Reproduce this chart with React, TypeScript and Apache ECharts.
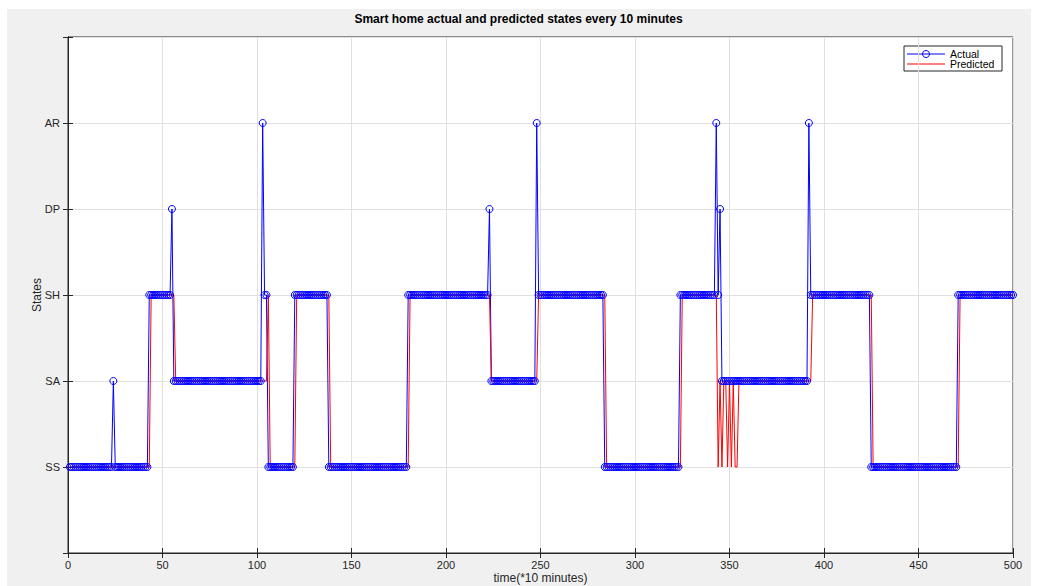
import React, { useEffect, useRef } from "react";
import * as echarts from "echarts";

// State codes: 1=SS, 2=SA, 3=SH, 4=DP, 5=AR
const STATE_LABELS = ["", "SS", "SA", "SH", "DP", "AR", ""];
const FIRST_STEP = 1;

// Actual states as runs (state, number of consecutive 10-minute steps)
const actualStates = [1, 2, 1, 3, 4, 2, 5, 3, 1, 3, 1, 3, 4, 2, 5, 3, 1, 3, 5, 3, 4, 2, 5, 3, 1, 3];
const actualRunLengths = [23, 1, 18, 12, 1, 47, 1, 2, 14, 18, 42, 43, 1, 24, 1, 35, 40, 19, 1, 1, 1, 46, 1, 32, 46, 30];

// Predicted states as runs
const predictedStates = [1, 3, 2, 3, 1, 3, 1, 3, 2, 3, 1, 3, 1, 2, 1, 2, 1, 2, 1, 2, 1, 2, 3, 1, 3];
const predictedRunLengths = [43, 13, 49, 1, 14, 18, 42, 43, 25, 36, 40, 19, 1, 1, 1, 2, 1, 1, 1, 1, 2, 39, 32, 46, 29];

const LEGEND_NAMES = ["Actual", "Predicted"];

function expandRuns(states: number[], lengths: number[]): [number, number][] {
  const out: [number, number][] = [];
  let t = FIRST_STEP;
  states.forEach((s, i) => {
    for (let k = 0; k < lengths[i]; k++) {
      out.push([t, s]);
      t++;
    }
  });
  return out;
}

const AXIS_COLOR = "#262626";
const GRID_COLOR = "#e0e0e0";
const BLUE = "#0000ff";
const RED = "#ff0000";
const FONT = "'Liberation Sans', Arial, Helvetica, sans-serif";

export default function App() {
  const ref = useRef<HTMLDivElement>(null);
  useEffect(() => {
    if (!ref.current) return;
    const chart = echarts.init(ref.current, undefined, { renderer: "svg" });
    const actual = expandRuns(actualStates, actualRunLengths);
    const predicted = expandRuns(predictedStates, predictedRunLengths);
    const xCommon = { type: "value" as const, min: 0, max: 500, interval: 50 };
    const yCommon = { type: "value" as const, min: 0, max: 6, interval: 1 };
    const axisLine = { show: true, lineStyle: { color: AXIS_COLOR, width: 1 } };
    const axisTick = { show: true, inside: true, length: 5, lineStyle: { color: AXIS_COLOR } };

    const lx = 904;
    const ly = 46;
    chart.setOption({
      animation: false,
      backgroundColor: "transparent",
      textStyle: { fontFamily: FONT },
      title: {
        text: "Smart home actual and predicted states every 10 minutes",
        left: "center",
        top: 8,
        textStyle: { fontSize: 12, fontWeight: "bold", color: "#000", fontFamily: FONT },
      },
      grid: {
        left: 68,
        right: 24,
        top: 37,
        bottom: 33,
        outerBoundsMode: "none",
        show: true,
        backgroundColor: "#ffffff",
        borderColor: AXIS_COLOR,
        borderWidth: 1,
      },
      graphic: [
        {
          type: "group",
          z: 100,
          children: [
            {
              type: "rect",
              shape: { x: lx, y: ly, width: 98, height: 25 },
              style: { fill: "#ffffff", stroke: AXIS_COLOR, lineWidth: 1 },
            },
            {
              type: "line",
              shape: { x1: lx + 3, y1: ly + 8, x2: lx + 41, y2: ly + 8 },
              style: { stroke: BLUE, lineWidth: 1 },
            },
            {
              type: "circle",
              shape: { cx: lx + 22, cy: ly + 8, r: 3.5 },
              style: { fill: "none", stroke: BLUE, lineWidth: 1 },
            },
            {
              type: "text",
              x: lx + 46,
              y: ly + 8,
              style: {
                text: LEGEND_NAMES[0],
                fill: "#000",
                fontSize: 10.5,
                fontFamily: FONT,
                verticalAlign: "middle",
                align: "left",
              },
            },
            {
              type: "line",
              shape: { x1: lx + 3, y1: ly + 18, x2: lx + 41, y2: ly + 18 },
              style: { stroke: RED, lineWidth: 1 },
            },
            {
              type: "text",
              x: lx + 46,
              y: ly + 18,
              style: {
                text: LEGEND_NAMES[1],
                fill: "#000",
                fontSize: 10.5,
                fontFamily: FONT,
                verticalAlign: "middle",
                align: "left",
              },
            },
          ],
        },
      ],
      xAxis: [
        {
          ...xCommon,
          position: "bottom",
          name: "time(*10 minutes)",
          nameLocation: "middle",
          nameGap: 19,
          nameMoveOverlap: false,
          nameTextStyle: { fontSize: 12, color: AXIS_COLOR, fontFamily: FONT },
          axisLine,
          axisTick,
          axisLabel: { color: AXIS_COLOR, fontSize: 11, margin: 6, fontFamily: FONT },
          splitLine: { show: true, lineStyle: { color: GRID_COLOR, width: 1 } },
        },
        {
          ...xCommon,
          position: "top",
          axisLine,
          axisTick,
          axisLabel: { show: false },
          splitLine: { show: false },
        },
      ],
      yAxis: [
        {
          ...yCommon,
          position: "left",
          name: "States",
          nameLocation: "middle",
          nameGap: 25,
          nameRotate: 90,
          nameMoveOverlap: false,
          nameTextStyle: { fontSize: 12, color: AXIS_COLOR, fontFamily: FONT },
          axisLine,
          axisTick,
          axisLabel: {
            color: AXIS_COLOR,
            fontSize: 11,
            margin: 8,
            fontFamily: FONT,
            formatter: (v: number) => STATE_LABELS[Math.round(v)] || "",
          },
          splitLine: { show: true, lineStyle: { color: GRID_COLOR, width: 1 } },
        },
        {
          ...yCommon,
          position: "right",
          axisLine,
          axisTick,
          axisLabel: { show: false },
          splitLine: { show: false },
        },
      ],
      series: [
        {
          name: LEGEND_NAMES[0],
          type: "line",
          xAxisIndex: 0,
          yAxisIndex: 0,
          data: actual,
          symbol: "circle",
          symbolSize: 7,
          showSymbol: true,
          showAllSymbol: true,
          itemStyle: { color: "rgba(0,0,0,0)", borderColor: BLUE, borderWidth: 1 },
          lineStyle: { color: BLUE, width: 1 },
          silent: true,
          emphasis: { disabled: true },
        },
        {
          name: LEGEND_NAMES[1],
          type: "line",
          xAxisIndex: 0,
          yAxisIndex: 0,
          data: predicted,
          symbol: "none",
          showSymbol: false,
          itemStyle: { color: RED },
          lineStyle: { color: RED, width: 1 },
          silent: true,
          emphasis: { disabled: true },
        },
      ],
    });
    return () => chart.dispose();
  }, []);

  return (
    <div style={{ position: "fixed", left: 0, top: 0, width: 1037, height: 586, background: "#ffffff" }}>
      <div
        style={{
          position: "absolute",
          left: 7,
          top: 9,
          width: 1024,
          height: 577,
          background: "#f0f0f0",
        }}
      />
      <div ref={ref} style={{ position: "absolute", left: 0, top: 0, width: 1037, height: 586 }} />
    </div>
  );
}
